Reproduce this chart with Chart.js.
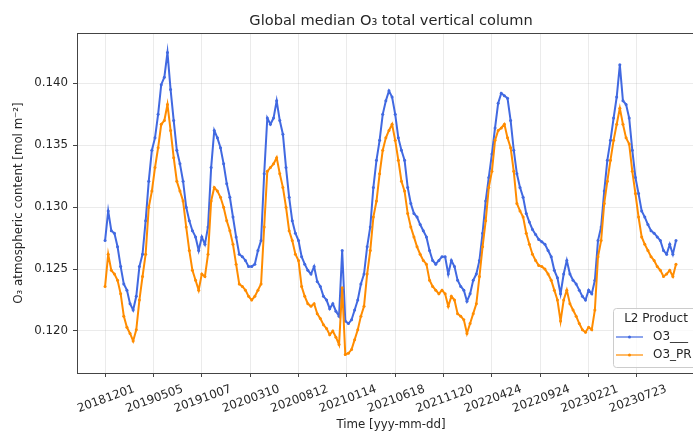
<!DOCTYPE html>
<html>
<head>
<meta charset="utf-8">
<script src="https://cdn.jsdelivr.net/npm/chart.js@4.4.0/dist/chart.umd.min.js"></script>
<style>
html, body { margin: 0; padding: 0; background: #fff; overflow: hidden; }
#wrap { position: relative; width: 693px; height: 431px; overflow: hidden; }
#ozone-chart { position: absolute; left: 0; top: 0; }
</style>
</head>
<body>
<div id="wrap"><canvas id="ozone-chart" width="720" height="440"></canvas></div>
<script>
//days between two samples, counted from 2018-12-01
const stepDays = 10;

//O3___ product, one value every stepDays (mol m-2)
const o3Std = [
  0.1273, 0.1297, 0.1281, 0.1279, 0.1268, 0.1252, 0.1238, 0.1233, 0.1222, 0.1217,
  0.1228, 0.1252, 0.1262, 0.1289, 0.1321, 0.1346, 0.1356, 0.1375, 0.1399, 0.1405,
  0.1425, 0.1395, 0.1370, 0.1346, 0.1335, 0.1321, 0.1300, 0.1289, 0.1281, 0.1276,
  0.1265, 0.1276, 0.1270, 0.1284, 0.1332, 0.1362, 0.1356, 0.1348, 0.1335, 0.1319,
  0.1308, 0.1292, 0.1276, 0.1262, 0.1260, 0.1257, 0.1252, 0.1252, 0.1254, 0.1265,
  0.1273, 0.1327, 0.1372, 0.1367, 0.1372, 0.1386, 0.1370, 0.1359, 0.1332, 0.1308,
  0.1289, 0.1279, 0.1273, 0.1260, 0.1254, 0.1249, 0.1246, 0.1252, 0.1240, 0.1236,
  0.1228, 0.1225, 0.1218, 0.1222, 0.1216, 0.1212, 0.1265, 0.1208, 0.1206, 0.1209,
  0.1217, 0.1225, 0.1238, 0.1246, 0.1268, 0.1284, 0.1316, 0.1338, 0.1354, 0.1375,
  0.1386, 0.1394, 0.1389, 0.1375, 0.1356, 0.1346, 0.1338, 0.1316, 0.1303, 0.1295,
  0.1292, 0.1286, 0.1281, 0.1276, 0.1265, 0.1257, 0.1254, 0.1257, 0.1260, 0.1260,
  0.1246, 0.1257, 0.1252, 0.1241, 0.1236, 0.1233, 0.1224, 0.1230, 0.1241, 0.1246,
  0.1257, 0.1279, 0.1305, 0.1324, 0.1343, 0.1364, 0.1384, 0.1392, 0.1390, 0.1388,
  0.1370, 0.1346, 0.1327, 0.1316, 0.1308, 0.1295, 0.1288, 0.1282, 0.1278, 0.1274,
  0.1272, 0.1270, 0.1265, 0.1260, 0.1249, 0.1243, 0.1230, 0.1246, 0.1257, 0.1246,
  0.1241, 0.1238, 0.1233, 0.1228, 0.1225, 0.1233, 0.1230, 0.1241, 0.1273, 0.1284,
  0.1313, 0.1338, 0.1354, 0.1372, 0.1389, 0.1415, 0.1386, 0.1383, 0.1372, 0.1346,
  0.1324, 0.1311, 0.1297, 0.1292, 0.1286, 0.1281, 0.1279, 0.1276, 0.1273, 0.1265,
  0.1262, 0.1270, 0.1262, 0.1273
];

//O3_PR product, same sampling
const o3Pr = [
  0.1236, 0.1262, 0.1249, 0.1246, 0.1241, 0.1230, 0.1212, 0.1203, 0.1198, 0.1192,
  0.1201, 0.1225, 0.1244, 0.1262, 0.1300, 0.1313, 0.1332, 0.1348, 0.1367, 0.1370,
  0.1383, 0.1362, 0.1340, 0.1321, 0.1313, 0.1305, 0.1284, 0.1265, 0.1249, 0.1241,
  0.1233, 0.1246, 0.1244, 0.1262, 0.1305, 0.1316, 0.1313, 0.1308, 0.1300, 0.1289,
  0.1281, 0.1270, 0.1254, 0.1238, 0.1236, 0.1233, 0.1228, 0.1225, 0.1228, 0.1233,
  0.1238, 0.1284, 0.1329, 0.1332, 0.1335, 0.1340, 0.1327, 0.1316, 0.1300, 0.1281,
  0.1273, 0.1262, 0.1257, 0.1236, 0.1228, 0.1222, 0.1220, 0.1222, 0.1214, 0.1210,
  0.1205, 0.1202, 0.1197, 0.1200, 0.1195, 0.1189, 0.1235, 0.1181, 0.1182, 0.1185,
  0.1193, 0.1201, 0.1212, 0.1220, 0.1246, 0.1265, 0.1292, 0.1305, 0.1327, 0.1346,
  0.1356, 0.1362, 0.1367, 0.1354, 0.1338, 0.1321, 0.1313, 0.1295, 0.1284, 0.1276,
  0.1268, 0.1262, 0.1257, 0.1254, 0.1241, 0.1236, 0.1233, 0.1230, 0.1233, 0.1230,
  0.1220, 0.1228, 0.1225, 0.1214, 0.1212, 0.1209, 0.1198, 0.1206, 0.1214, 0.1222,
  0.1244, 0.1268, 0.1289, 0.1316, 0.1329, 0.1354, 0.1362, 0.1364, 0.1367, 0.1356,
  0.1348, 0.1329, 0.1303, 0.1297, 0.1292, 0.1279, 0.1270, 0.1262, 0.1257, 0.1253,
  0.1252, 0.1250, 0.1246, 0.1241, 0.1233, 0.1225, 0.1208, 0.1225, 0.1233, 0.1222,
  0.1217, 0.1212, 0.1206, 0.1201, 0.1199, 0.1203, 0.1201, 0.1217, 0.1260, 0.1273,
  0.1303, 0.1321, 0.1338, 0.1354, 0.1367, 0.1380, 0.1367, 0.1356, 0.1351, 0.1329,
  0.1311, 0.1292, 0.1276, 0.1270, 0.1265, 0.1260, 0.1257, 0.1252, 0.1249, 0.1244,
  0.1246, 0.1249, 0.1244, 0.1254
];

//x tick labels and their day offsets
const tickLabels = ["20181201", "20190505", "20191007", "20200310", "20200812", "20210114",
                    "20210618", "20211120", "20220424", "20220924", "20230221", "20230723"];
const tickDays = [0, 155, 310, 465, 620, 775, 930, 1085, 1240, 1395, 1550, 1705];
const yTicks = [0.120, 0.125, 0.130, 0.135, 0.140];

const seriesNames = ["O3___", "O3_PR"];
const seriesColors = ["#4169e1", "#ff8c00"];

const fontFamily = "'DejaVu Sans', sans-serif";
const textColor = "#262626";
const spineColor = "#444";

const toPoints = values => values.map((v, i) => ({ x: i * stepDays, y: v }));

//title, top spine, rotated date labels and the legend box
const framePlugin = {
  id: "frame",
  afterDraw: chart => {
    const ctx = chart.ctx;
    const area = chart.chartArea;
    const xScale = chart.scales.x;
    ctx.save();

    //top and right spines
    ctx.strokeStyle = spineColor;
    ctx.lineWidth = 1;
    ctx.beginPath();
    ctx.moveTo(area.left, area.top + 0.5);
    ctx.lineTo(area.right, area.top + 0.5);
    ctx.lineTo(area.right, area.bottom);
    ctx.stroke();

    //title
    ctx.fillStyle = textColor;
    ctx.font = "14.6px " + fontFamily;
    ctx.textAlign = "center";
    ctx.textBaseline = "middle";
    ctx.fillText("Global median O\u2083 total vertical column", (area.left + area.right) / 2, 21);

    //date labels, centred on the tick and turned 20 degrees
    ctx.font = "11.8px " + fontFamily;
    tickDays.forEach((d, i) => {
      const px = xScale.getPixelForValue(d);
      ctx.save();
      ctx.translate(px + 1, area.bottom + 26);
      ctx.rotate(-20 * Math.PI / 180);
      ctx.fillText(tickLabels[i], 0, 0);
      ctx.restore();
    });

    //legend in the lower right corner
    const bx = 613, by = 308, bw = 86, bh = 59;
    ctx.fillStyle = "rgba(255,255,255,0.8)";
    ctx.strokeStyle = "#cccccc";
    ctx.beginPath();
    ctx.roundRect(bx + 0.5, by + 0.5, bw, bh, 3);
    ctx.fill();
    ctx.stroke();

    ctx.fillStyle = textColor;
    ctx.font = "12px " + fontFamily;
    ctx.textAlign = "center";
    ctx.fillText("L2 Product", bx + bw / 2, by + 11);

    ctx.textAlign = "left";
    seriesNames.forEach((name, i) => {
      const ly = by + 29 + i * 18;
      ctx.strokeStyle = seriesColors[i];
      ctx.lineWidth = 1.2;
      ctx.beginPath();
      ctx.moveTo(bx + 3, ly);
      ctx.lineTo(bx + 30, ly);
      ctx.stroke();
      ctx.fillStyle = seriesColors[i];
      ctx.beginPath();
      ctx.arc(bx + 16.5, ly, 1.5, 0, 2 * Math.PI);
      ctx.fill();
      ctx.fillStyle = textColor;
      ctx.fillText(name, bx + 40, ly);
    });

    ctx.restore();
  }
};

const gridColor = "rgba(176,176,176,0.25)";

new Chart("ozone-chart", {
  type: "line",
  data: {
    datasets: [
      {
        label: seriesNames[0],
        data: toPoints(o3Std),
        borderColor: seriesColors[0],
        backgroundColor: seriesColors[0],
        borderWidth: 2,
        pointRadius: 1.5,
        pointBorderWidth: 0,
        order: 1
      },
      {
        label: seriesNames[1],
        data: toPoints(o3Pr),
        borderColor: seriesColors[1],
        backgroundColor: seriesColors[1],
        borderWidth: 2,
        pointRadius: 1.5,
        pointBorderWidth: 0,
        order: 0
      }
    ]
  },
  options: {
    responsive: false,
    animation: false,
    devicePixelRatio: 1,
    layout: { padding: { left: 0, top: 33, right: 15, bottom: 0 } },
    plugins: {
      legend: { display: false },
      tooltip: { enabled: false },
      title: { display: false }
    },
    scales: {
      x: {
        type: "linear",
        min: -90,
        max: 1923,
        afterBuildTicks: scale => { scale.ticks = tickDays.map(v => ({ value: v })); },
        afterFit: scale => { scale.height = 67; },
        ticks: { display: false },
        grid: { color: gridColor, tickColor: spineColor, tickLength: 4 },
        border: { color: spineColor },
        title: {
          display: true,
          text: "Time [yyy-mm-dd]",
          color: textColor,
          font: { family: fontFamily, size: 11.8 },
          padding: { top: 0, bottom: 8 }
        }
      },
      y: {
        min: 0.116607,
        max: 0.144071,
        afterBuildTicks: scale => { scale.ticks = yTicks.map(v => ({ value: v })); },
        afterFit: scale => { scale.width = 77; },
        ticks: {
          callback: v => v.toFixed(3),
          color: textColor,
          font: { family: fontFamily, size: 11.8 },
          padding: 5
        },
        grid: { color: gridColor, tickColor: spineColor, tickLength: 4 },
        border: { color: spineColor },
        title: {
          display: true,
          text: "O\u2083 atmospheric content [mol m\u207b\u00b2]",
          color: textColor,
          font: { family: fontFamily, size: 11.8 },
          padding: { top: 12, bottom: 0 }
        }
      }
    }
  },
  plugins: [framePlugin]
});
</script>
</body>
</html>
